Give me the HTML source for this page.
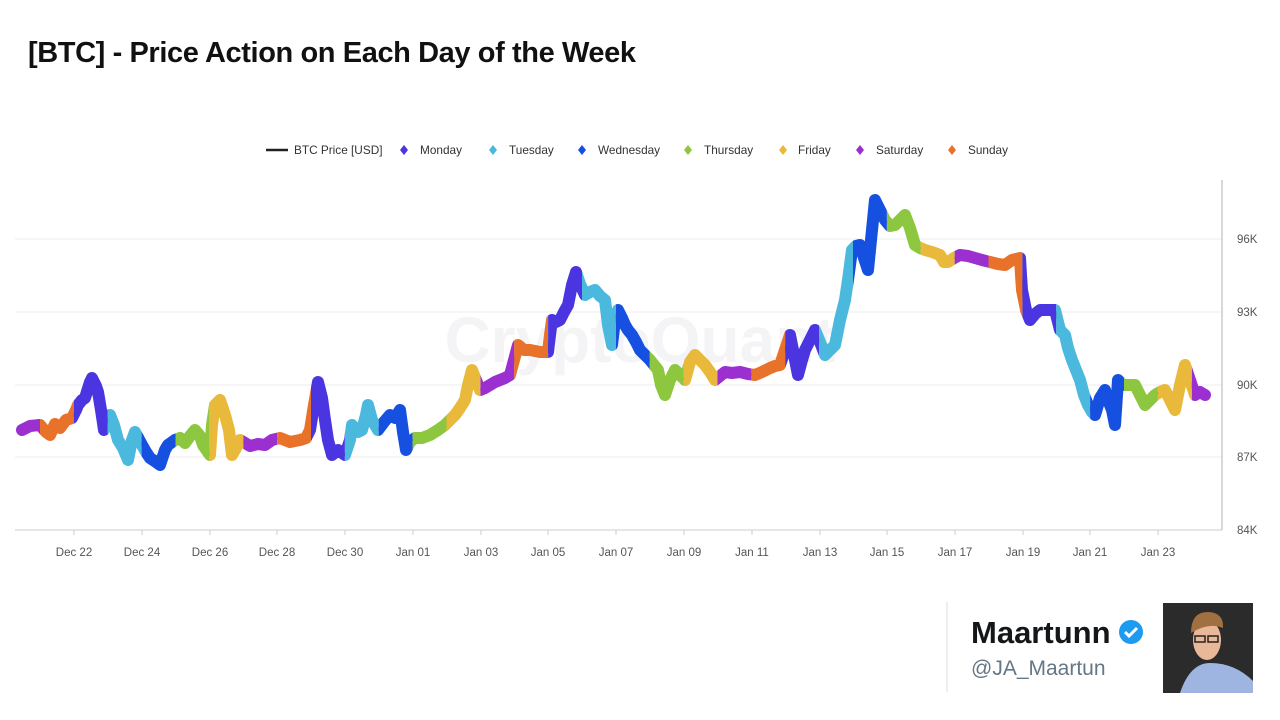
<!DOCTYPE html>
<html><head><meta charset="utf-8"><style>
body{margin:0;width:1280px;height:720px;background:#fff;overflow:hidden;font-family:"Liberation Sans",sans-serif;position:relative}
.t{position:absolute;left:28px;top:37px;font-size:29px;font-weight:bold;color:#111;letter-spacing:-0.4px}
</style></head><body>
<div class="t">[BTC] - Price Action on Each Day of the Week</div>
<svg width="1280" height="720" style="position:absolute;left:0;top:0">
<defs>
<path id="p" fill="none" stroke-linejoin="round" stroke-linecap="round" d="M22,430 L30,426 L40,425 L46,432 L50,435 L55,424 L60,428 L66,420 L72,418 L76,410 L78,405 L82,400 L85,398 L90,382 L92,378 L96,386 L98,392 L101,410 L104,430 L110,415 L114,425 L118,440 L123,448 L128,460 L132,440 L135,432 L142,445 L146,452 L150,458 L156,462 L160,465 L165,450 L168,445 L175,440 L180,438 L185,443 L190,436 L195,430 L200,436 L203,445 L210,455 L212,425 L215,405 L220,400 L225,415 L229,430 L232,455 L236,448 L240,440 L250,446 L258,444 L265,445 L272,440 L280,438 L290,442 L300,440 L306,438 L310,430 L314,405 L318,382 L322,398 L325,420 L328,440 L332,455 L338,450 L345,455 L350,440 L352,425 L358,432 L362,430 L366,415 L368,405 L372,420 L378,430 L384,422 L390,415 L395,418 L400,410 L403,432 L406,450 L410,442 L415,438 L422,438 L430,435 L438,430 L445,425 L450,420 L455,415 L460,408 L465,400 L468,385 L472,370 L476,380 L480,390 L485,388 L490,385 L495,382 L500,380 L505,378 L510,375 L514,360 L518,345 L524,350 L530,350 L540,352 L548,352 L550,335 L552,320 L556,322 L560,320 L564,312 L568,305 L572,285 L576,272 L580,284 L585,295 L590,292 L595,290 L600,296 L605,300 L608,325 L612,345 L615,320 L618,310 L622,318 L625,325 L628,330 L632,335 L636,342 L640,350 L645,355 L650,360 L654,365 L658,370 L661,385 L665,395 L670,380 L675,370 L680,375 L685,380 L690,362 L695,355 L700,360 L705,365 L710,372 L715,380 L720,376 L725,372 L732,373 L740,372 L748,374 L755,375 L762,372 L770,368 L775,366 L780,365 L785,350 L790,335 L794,355 L798,375 L802,360 L805,350 L810,340 L815,330 L820,342 L825,355 L830,350 L835,345 L840,320 L845,300 L848,280 L852,250 L856,246 L860,245 L864,258 L868,270 L872,230 L875,200 L880,210 L885,220 L890,226 L895,225 L900,220 L905,215 L910,228 L915,245 L920,248 L925,250 L932,252 L940,255 L944,262 L948,262 L954,258 L960,255 L968,256 L975,258 L982,260 L990,262 L998,264 L1005,265 L1012,260 L1020,258 L1021,275 L1022,290 L1026,310 L1030,320 L1035,314 L1040,310 L1048,310 L1055,310 L1058,322 L1060,330 L1065,335 L1068,348 L1072,360 L1076,370 L1080,380 L1084,395 L1088,405 L1092,412 L1095,415 L1100,398 L1105,390 L1108,400 L1112,410 L1115,425 L1118,380 L1122,384 L1125,385 L1130,385 L1135,385 L1140,395 L1145,405 L1150,400 L1155,395 L1160,392 L1165,390 L1170,400 L1175,410 L1180,385 L1185,365 L1190,380 L1195,395 L1200,392 L1205,395"/>
<clipPath id="c0"><rect x="6.1" y="0" width="33.9" height="720"/><rect x="243.2" y="0" width="33.9" height="720"/><rect x="480.4" y="0" width="33.9" height="720"/><rect x="717.5" y="0" width="33.9" height="720"/><rect x="954.6" y="0" width="33.9" height="720"/><rect x="1191.7" y="0" width="40" height="720"/></clipPath>
<clipPath id="c1"><rect x="40" y="0" width="33.9" height="720"/><rect x="277.1" y="0" width="33.9" height="720"/><rect x="514.2" y="0" width="33.9" height="720"/><rect x="751.4" y="0" width="33.9" height="720"/><rect x="988.5" y="0" width="33.9" height="720"/></clipPath>
<clipPath id="c2"><rect x="73.9" y="0" width="33.9" height="720"/><rect x="311" y="0" width="33.9" height="720"/><rect x="548.1" y="0" width="33.9" height="720"/><rect x="785.2" y="0" width="33.9" height="720"/><rect x="1022.4" y="0" width="33.9" height="720"/></clipPath>
<clipPath id="c3"><rect x="107.7" y="0" width="33.9" height="720"/><rect x="344.9" y="0" width="33.9" height="720"/><rect x="582" y="0" width="33.9" height="720"/><rect x="819.1" y="0" width="33.9" height="720"/><rect x="1056.2" y="0" width="33.9" height="720"/></clipPath>
<clipPath id="c4"><rect x="141.6" y="0" width="33.9" height="720"/><rect x="378.7" y="0" width="33.9" height="720"/><rect x="615.9" y="0" width="33.9" height="720"/><rect x="853" y="0" width="33.9" height="720"/><rect x="1090.1" y="0" width="33.9" height="720"/></clipPath>
<clipPath id="c5"><rect x="175.5" y="0" width="33.9" height="720"/><rect x="412.6" y="0" width="33.9" height="720"/><rect x="649.7" y="0" width="33.9" height="720"/><rect x="886.9" y="0" width="33.9" height="720"/><rect x="1124" y="0" width="33.9" height="720"/></clipPath>
<clipPath id="c6"><rect x="209.4" y="0" width="33.9" height="720"/><rect x="446.5" y="0" width="33.9" height="720"/><rect x="683.6" y="0" width="33.9" height="720"/><rect x="920.7" y="0" width="33.9" height="720"/><rect x="1157.9" y="0" width="33.9" height="720"/></clipPath>
</defs>
<g stroke="#eee" stroke-width="1">
<line x1="15" y1="239" x2="1222" y2="239"/><line x1="15" y1="312" x2="1222" y2="312"/><line x1="15" y1="385" x2="1222" y2="385"/><line x1="15" y1="457" x2="1222" y2="457"/>
</g>
<line x1="15" y1="530" x2="1222" y2="530" stroke="#ccc"/>
<line x1="1222" y1="180" x2="1222" y2="530" stroke="#ccc" stroke-width="1.5"/>
<g stroke="#ccc"><line x1="74" y1="530" x2="74" y2="535"/><line x1="142" y1="530" x2="142" y2="535"/><line x1="210" y1="530" x2="210" y2="535"/><line x1="277" y1="530" x2="277" y2="535"/><line x1="345" y1="530" x2="345" y2="535"/><line x1="413" y1="530" x2="413" y2="535"/><line x1="481" y1="530" x2="481" y2="535"/><line x1="548" y1="530" x2="548" y2="535"/><line x1="616" y1="530" x2="616" y2="535"/><line x1="684" y1="530" x2="684" y2="535"/><line x1="752" y1="530" x2="752" y2="535"/><line x1="820" y1="530" x2="820" y2="535"/><line x1="887" y1="530" x2="887" y2="535"/><line x1="955" y1="530" x2="955" y2="535"/><line x1="1023" y1="530" x2="1023" y2="535"/><line x1="1090" y1="530" x2="1090" y2="535"/><line x1="1158" y1="530" x2="1158" y2="535"/></g>
<text x="640" y="362" text-anchor="middle" font-size="64" font-weight="bold" fill="#f4f4f6">CryptoQuant</text>
<use href="#p" stroke="#333" stroke-width="2"/>
<use href="#p" stroke="#9b2fd0" stroke-width="12" clip-path="url(#c0)"/>
<use href="#p" stroke="#e8722a" stroke-width="12" clip-path="url(#c1)"/>
<use href="#p" stroke="#4a35e0" stroke-width="12" clip-path="url(#c2)"/>
<use href="#p" stroke="#4bb8dd" stroke-width="12" clip-path="url(#c3)"/>
<use href="#p" stroke="#1550e0" stroke-width="12" clip-path="url(#c4)"/>
<use href="#p" stroke="#8dc63f" stroke-width="12" clip-path="url(#c5)"/>
<use href="#p" stroke="#e8b93a" stroke-width="12" clip-path="url(#c6)"/>
<g font-size="11.5" fill="#555" text-anchor="middle">
<text x="74" y="556">Dec 22</text><text x="142" y="556">Dec 24</text><text x="210" y="556">Dec 26</text><text x="277" y="556">Dec 28</text><text x="345" y="556">Dec 30</text><text x="413" y="556">Jan 01</text><text x="481" y="556">Jan 03</text><text x="548" y="556">Jan 05</text><text x="616" y="556">Jan 07</text><text x="684" y="556">Jan 09</text><text x="752" y="556">Jan 11</text><text x="820" y="556">Jan 13</text><text x="887" y="556">Jan 15</text><text x="955" y="556">Jan 17</text><text x="1023" y="556">Jan 19</text><text x="1090" y="556">Jan 21</text><text x="1158" y="556">Jan 23</text>
</g>
<g font-size="11.5" fill="#555">
<text x="1237" y="243">96K</text><text x="1237" y="316">93K</text><text x="1237" y="389">90K</text><text x="1237" y="461">87K</text><text x="1237" y="534">84K</text>
</g>
<g font-size="11.8" fill="#333">
<line x1="266" y1="150" x2="288" y2="150" stroke="#222" stroke-width="2.5"/><text x="294" y="154">BTC Price [USD]</text>
<path d="M404,145 l4,5 -4,5 -4,-5z" fill="#4a35e0"/><text x="420" y="154">Monday</text>
<path d="M493,145 l4,5 -4,5 -4,-5z" fill="#4bb8dd"/><text x="509" y="154">Tuesday</text>
<path d="M582,145 l4,5 -4,5 -4,-5z" fill="#1550e0"/><text x="598" y="154">Wednesday</text>
<path d="M688,145 l4,5 -4,5 -4,-5z" fill="#8dc63f"/><text x="704" y="154">Thursday</text>
<path d="M783,145 l4,5 -4,5 -4,-5z" fill="#e8b93a"/><text x="798" y="154">Friday</text>
<path d="M860,145 l4,5 -4,5 -4,-5z" fill="#9b2fd0"/><text x="876" y="154">Saturday</text>
<path d="M952,145 l4,5 -4,5 -4,-5z" fill="#e8722a"/><text x="968" y="154">Sunday</text>
</g>
<line x1="947" y1="602" x2="947" y2="692" stroke="#eee" stroke-width="2"/>
<text x="971" y="643" font-size="31" font-weight="bold" fill="#14171a">Maartunn</text>
<circle cx="1131" cy="632" r="12" fill="#1d9bf0"/>
<path d="M1125,632 l4,4 8,-8" stroke="#fff" stroke-width="3" fill="none"/>
<text x="971" y="675" font-size="21" fill="#657786">@JA_Maartun</text>
<rect x="1163" y="603" width="90" height="90" fill="#2b2b2b"/>
<path d="M1180,693 q10,-30 30,-30 q25,0 43,18 v12z" fill="#9db5e0"/>
<ellipse cx="1207" cy="640" rx="14" ry="20" fill="#e8b898"/>
<path d="M1191,633 q0,-22 18,-21 q15,1 14,16 q-14,-6 -32,5z" fill="#a07040"/>
<rect x="1195" y="636" width="10" height="6" fill="none" stroke="#222" stroke-width="1.5"/><rect x="1208" y="636" width="10" height="6" fill="none" stroke="#222" stroke-width="1.5"/>
</svg>
</body></html>
